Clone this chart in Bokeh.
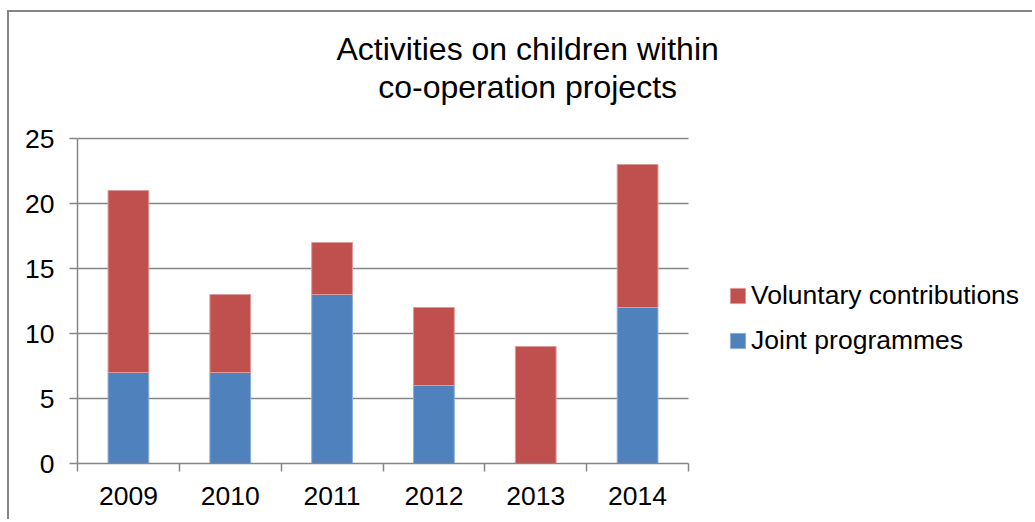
import numpy as np
from bokeh.plotting import figure
from bokeh.models import (Range1d, FixedTicker, Legend, LegendItem, Label, ColumnDataSource)
from bokeh.embed import file_html
from bokeh.resources import INLINE

years = ["2009", "2010", "2011", "2012", "2013", "2014"]
joint = [7, 7, 13, 6, 0, 12]
voluntary = [14, 6, 4, 6, 9, 11]
y_ticks = [0, 5, 10, 15, 20, 25]
title_lines = ["Activities on children within", "co-operation projects"]

FONT = "Liberation Sans"
GRID = "#868686"
RED = "#C0504D"
BLUE = "#4F81BD"
FS = "26.5px"

n = len(years)
ymax = max(y_ticks)

# canvas geometry (pixels)
W, H = 1025, 509
LEFT, BOTTOM = 68, 58
PLOT_W, PLOT_H = 611, 325          # size of the bar area
fw, fh = W - LEFT, H - BOTTOM       # frame extends to top/right so that title & legend live inside it
x_end = n * fw / PLOT_W
y_end = ymax * fh / PLOT_H

x = list(np.arange(n) + 0.5)
src = ColumnDataSource(dict(x=x, joint=joint, voluntary=voluntary))

p = figure(width=W, height=H, output_backend="svg", toolbar_location=None, title=None,
           x_range=Range1d(0, x_end), y_range=Range1d(0, y_end),
           min_border_left=LEFT, min_border_right=0, min_border_top=0, min_border_bottom=BOTTOM,
           styles={"margin-left": "7px", "margin-top": "10px",
                   "border-left": "2px solid #868686", "border-top": "2px solid #868686"})
p.outline_line_color = None
p.background_fill_color = "white"
p.border_fill_color = "white"

rs = p.vbar_stack(["joint", "voluntary"], x="x", width=0.4, source=src,
                  color=[BLUE, RED], line_color=["#8DAEDA", "#DE9A98"], line_width=1)

# axes
xa = p.xaxis[0]
xa.bounds = (0, n)
xa.ticker = FixedTicker(ticks=x, minor_ticks=list(range(n + 1)))
xa.major_label_overrides = {xi: y for xi, y in zip(x, years)}
xa.major_tick_line_color = None
xa.minor_tick_line_color = GRID
xa.minor_tick_line_width = 1.5
xa.minor_tick_out = 8
xa.minor_tick_in = 0
xa.axis_line_color = GRID
xa.axis_line_width = 1.5
xa.major_label_text_font = FONT
xa.major_label_text_font_size = FS
xa.major_label_text_color = "black"
xa.major_label_standoff = 15

ya = p.yaxis[0]
ya.bounds = (0, ymax)
ya.ticker = FixedTicker(ticks=y_ticks, minor_ticks=[])
ya.major_tick_line_color = GRID
ya.major_tick_line_width = 1.5
ya.major_tick_out = 8
ya.minor_tick_line_color = None
ya.axis_line_color = GRID
ya.axis_line_width = 1.5
ya.major_label_text_font = FONT
ya.major_label_text_font_size = FS
ya.major_label_text_color = "black"
ya.major_label_standoff = 15

p.xgrid.grid_line_color = None
g = p.ygrid[0]
if "cross_bounds" in g.properties():
    g.cross_bounds = (0, n)
    g.grid_line_color = GRID
    g.grid_line_width = 1.5
    ya.major_tick_in = 0
else:
    # horizontal gridlines limited to the bar area: drawn as inward ticks of the y axis
    g.grid_line_color = None
    ya.major_tick_in = PLOT_W

# title (two lines)
for ty, txt in zip([31.85, 28.95], title_lines):
    p.add_layout(Label(x=4.42, y=ty, text=txt, text_align="center", text_baseline="alphabetic",
                       text_font=FONT, text_font_size="32px", text_color="black"))

legend = Legend(items=[LegendItem(label="Voluntary contributions", renderers=[rs[1]]),
                       LegendItem(label="Joint programmes", renderers=[rs[0]])],
                location=(651, 107), orientation="vertical",
                glyph_width=19, glyph_height=19, label_height=29, spacing=14,
                label_standoff=4, padding=0, margin=0,
                label_text_font=FONT, label_text_font_size=FS, label_text_color="black",
                border_line_color=None, background_fill_alpha=0)
p.add_layout(legend, "center")

open("out.html", "w").write(file_html(p, INLINE))
